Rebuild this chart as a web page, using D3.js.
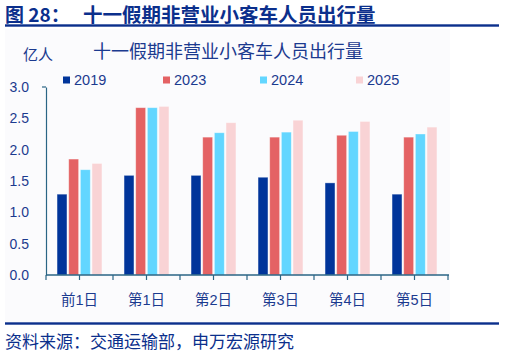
<!DOCTYPE html>
<html><head><meta charset="utf-8">
<script src="https://cdn.jsdelivr.net/npm/d3@7"></script>
<style>
html,body{margin:0;padding:0;background:#fff;}
svg{display:block;font-family:"Liberation Sans",Arial,"Noto Sans CJK SC",sans-serif;}
</style></head><body>
<svg id="c" width="505" height="355"></svg>
<script>
const categories = ["前1日","第1日","第2日","第3日","第4日","第5日"];
const seriesNames = ["2019","2023","2024","2025"];
const v2019 = [1.29,1.59,1.59,1.56,1.47,1.29];
const v2023 = [1.85,2.67,2.20,2.20,2.23,2.20];
const v2024 = [1.68,2.67,2.27,2.28,2.29,2.25];
const v2025 = [1.78,2.69,2.43,2.47,2.45,2.36];
const yTicks = [0,0.5,1.0,1.5,2.0,2.5,3.0];
const colors = ["#00349A","#E46264","#63D6FF","#F9D3D5"];
const seriesValues = [v2019,v2023,v2024,v2025];

const svg = d3.select("#c");
const textBlue = "#1B3A8F";
const axisColor = "#2A6585";

// chart area background
svg.append("rect").attr("x",5).attr("y",29).attr("width",445).attr("height",293).attr("fill","#FBFBFD");

// header
svg.append("text").attr("x",5).attr("y",21.5).attr("font-size",19).attr("font-weight","bold")
  .attr("fill","#0B2F8C").attr("font-family","'Noto Sans CJK SC',sans-serif").text("图 28：");
svg.append("text").attr("x",83).attr("y",21.5).attr("font-size",19.5).attr("font-weight","bold")
  .attr("fill","#0B2F8C").attr("font-family","'Noto Sans CJK SC',sans-serif").text("十一假期非营业小客车人员出行量");
svg.append("rect").attr("x",5).attr("y",24.3).attr("width",494).attr("height",2.4).attr("fill","#0B2F8C");
svg.append("rect").attr("x",5).attr("y",322.3).attr("width",494).attr("height",2.4).attr("fill","#0B2F8C");
svg.append("text").attr("x",5).attr("y",348).attr("font-size",17)
  .attr("fill","#0B2F8C").attr("font-family","'Noto Sans CJK SC',sans-serif").text("资料来源：交通运输部，申万宏源研究");

// chart title and unit
svg.append("text").attr("x",93).attr("y",58).attr("font-size",18).attr("fill",textBlue)
  .attr("font-family","'Noto Sans CJK SC',sans-serif").text("十一假期非营业小客车人员出行量");
svg.append("text").attr("x",23).attr("y",60).attr("font-size",15).attr("fill",textBlue)
  .attr("font-family","'Noto Sans CJK SC',sans-serif").text("亿人");

// scales
const x0 = d3.scaleBand().domain(categories).range([46,448]).paddingInner(0.33).paddingOuter(0.165);
const x1 = d3.scaleBand().domain(seriesNames).range([0,x0.bandwidth()]).paddingInner(0.15);
const y = d3.scaleLinear().domain([0,3]).range([275,87]);

// bars
const g = svg.append("g");
categories.forEach((c,i)=>{
  seriesNames.forEach((s,j)=>{
    g.append("rect")
      .attr("x",x0(c)+x1(s)).attr("width",x1.bandwidth())
      .attr("y",y(seriesValues[j][i])).attr("height",y(0)-y(seriesValues[j][i]))
      .attr("fill",colors[j]).attr("stroke","rgba(255,255,255,0.45)").attr("stroke-width",0.8);
  });
});

// y axis
const yAxis = d3.axisLeft(y).tickValues(yTicks).tickFormat(d3.format(".1f")).tickSize(0).tickPadding(17);
const ya = svg.append("g").attr("transform","translate(46,0)").call(yAxis);
ya.select(".domain").attr("stroke",axisColor).attr("stroke-width",1.2);
ya.selectAll("text").attr("fill",textBlue).attr("font-size",14).attr("font-family","'Liberation Sans',Arial,sans-serif");
svg.append("line").attr("x1",42).attr("x2",46).attr("y1",y(3)).attr("y2",y(3)).attr("stroke",axisColor).attr("stroke-width",1.2);

// x axis
const xa = svg.append("g");
xa.append("line").attr("x1",46).attr("x2",449).attr("y1",y(0)).attr("y2",y(0)).attr("stroke",axisColor).attr("stroke-width",1.4);
const step = x0.step();
const tickPos = [];
categories.forEach(c=>{
  const start = x0(c) - x0.paddingInner()*step/2;
  tickPos.push(start, start+step/2);
});
tickPos.push(tickPos[0]+step*categories.length);
xa.selectAll("line.t").data(tickPos).enter().append("line").attr("class","t")
  .attr("x1",d=>d).attr("x2",d=>d).attr("y1",y(0)).attr("y2",y(0)+5)
  .attr("stroke",axisColor).attr("stroke-width",1.2);
xa.selectAll("text").data(categories).enter().append("text")
  .attr("x",d=>x0(d)+x0.bandwidth()/2).attr("y",305).attr("text-anchor","middle")
  .attr("font-size",14.5).attr("fill",textBlue)
  .attr("font-family","'Liberation Sans',Arial,'Noto Sans CJK SC',sans-serif").text(d=>d);

// legend
const legX = [63,163,260,356];
seriesNames.forEach((s,j)=>{
  svg.append("rect").attr("x",legX[j]).attr("y",76.5).attr("width",7).attr("height",7).attr("fill",colors[j]);
  svg.append("text").attr("x",legX[j]+11).attr("y",85).attr("font-size",14.5).attr("fill",textBlue)
    .attr("font-family","'Liberation Sans',Arial,sans-serif").text(s);
});
</script>
</body></html>
